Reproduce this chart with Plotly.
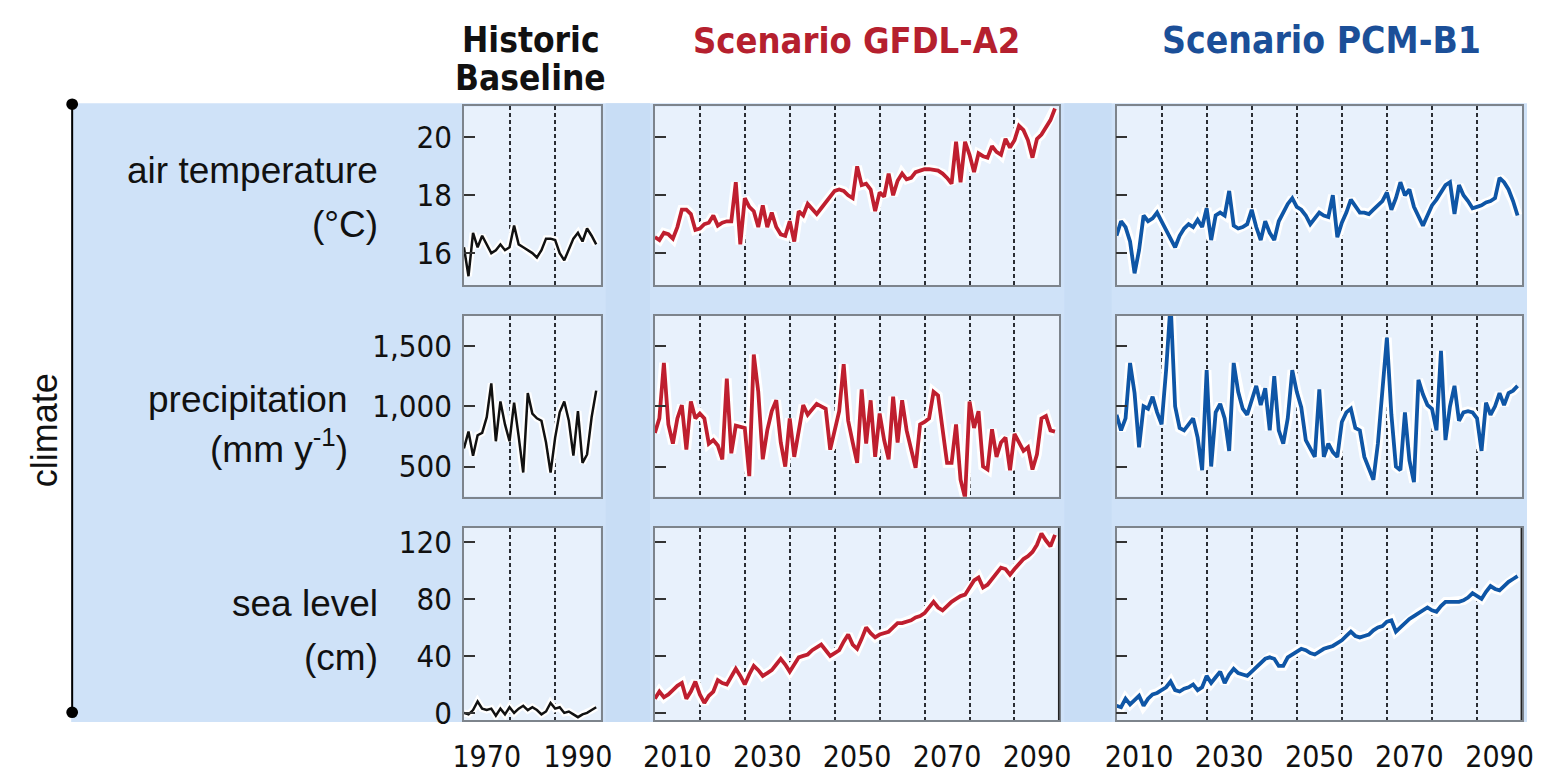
import plotly.graph_objects as go

# The page adds an 8 px body margin; the figure is sized to fit the 1547x782 window
# and all positions below are given in window pixels.
WIN_W, WIN_H = 1547, 782
OFF = 8
W, H = WIN_W - 2 * OFF, WIN_H - 2 * OFF

# ---------------- data ----------------
hist_years = list(range(1965, 1995))
scen_years = list(range(2005, 2095))

hist_temp = [16.2, 15.2, 16.7, 16.2, 16.6, 16.3, 16.0, 16.1, 16.3, 16.1,
             16.2, 16.95, 16.3, 16.2, 16.1, 16.0, 15.85, 16.1, 16.5, 16.5,
             16.45, 16.0, 15.75, 16.1, 16.5, 16.7, 16.4, 16.85, 16.6, 16.3]
hist_precip = [650, 790, 590, 760, 780, 910, 1190, 710, 1040, 850,
               710, 1030, 750, 450, 1110, 940, 900, 880, 700, 450,
               740, 950, 1040, 880, 590, 960, 530, 600, 910, 1130]
hist_sea = [0, -1, 2, 8, 3, 2, 3, -2, 3, -1,
            4, 0, 3, 5, 2, 4, 2, -1, 1, 7,
            3, 4, 0, 1, -1, -3, -1, 0, 2, 4]

gfdl_temp = [16.55, 16.45, 16.7, 16.65, 16.5, 16.9, 17.5, 17.5, 17.35, 16.8,
             16.85, 17.0, 17.05, 17.3, 16.95, 17.05, 17.1, 17.1, 18.45, 16.3,
             17.9, 17.6, 17.45, 16.9, 17.65, 16.9, 17.4, 16.9, 16.65, 16.6,
             17.1, 16.4, 17.45, 17.3, 17.7, 17.5, 17.35, 17.55, 17.75, 17.9,
             18.15, 18.2, 18.15, 18.0, 17.9, 19.0, 18.35, 18.4, 18.2, 17.45,
             18.1, 17.95, 18.75, 18.0, 18.5, 18.75, 18.55, 18.6, 18.8, 18.85,
             18.9, 18.9, 18.88, 18.85, 18.75, 18.6, 18.4, 19.85, 18.45, 19.85,
             19.4, 18.8, 19.45, 19.35, 19.3, 19.7, 19.5, 19.4, 19.95, 19.65,
             19.9, 20.4, 20.25, 19.9, 19.3, 19.95, 20.1, 20.35, 20.6, 21.0]
gfdl_precip = [780, 900, 1360, 850, 690, 900, 1010, 640, 1040, 900,
               940, 900, 690, 720, 675, 560, 1230, 610, 840, 830,
               820, 420, 1430, 1120, 560, 800, 960, 1050, 700, 500,
               900, 580, 800, 1010, 930, 980, 1020, 1000, 980, 640,
               800, 960, 1350, 880, 700, 530, 1140, 690, 1050, 580,
               940, 720, 560, 1080, 700, 1050, 800, 630, 490, 850,
               870, 900, 1120, 1090, 800, 530, 530, 850, 390, 240,
               1040, 820, 960, 500, 475, 810, 580, 700, 740, 470,
               770, 700, 630, 660, 475, 600, 900, 920, 800, 790]
gfdl_sea = [10, 15, 11, 13, 16, 19, 21, 10, 15, 22,
            13, 7, 12, 15, 23, 21, 20, 25, 31, 26,
            20, 27, 33, 30, 26, 28, 30, 34, 38, 34,
            29, 34, 39, 40, 41, 44, 46, 48, 44, 40,
            42, 44, 50, 55, 48, 45, 52, 60, 56, 53,
            55, 56, 57, 60, 63, 63, 64, 65, 67, 68,
            70, 74, 78, 74, 72, 75, 78, 80, 82, 83,
            88, 93, 95, 88, 90, 94, 98, 102, 101, 97,
            101, 105, 108, 110, 113, 118, 126, 121, 117, 125]

pcm_temp = [16.6, 17.1, 16.9, 16.4, 15.3, 16.1, 17.3, 17.1, 17.2, 17.4,
            17.1, 16.8, 16.5, 16.2, 16.6, 16.85, 17.0, 16.9, 17.15, 16.9,
            17.55, 16.45, 17.3, 17.4, 17.3, 18.15, 16.95, 16.85, 16.9, 17.0,
            17.5, 16.9, 16.45, 17.1, 16.7, 16.45, 17.1, 17.4, 17.7, 17.9,
            17.6, 17.5, 17.3, 17.0, 17.2, 17.4, 17.3, 17.25, 18.0, 16.55,
            17.05, 17.4, 17.85, 17.6, 17.4, 17.4, 17.35, 17.5, 17.65, 17.8,
            18.1, 17.5, 17.9, 18.45, 18.0, 18.2, 17.6, 17.3, 16.95, 17.3,
            17.65, 17.85, 18.1, 18.35, 18.45, 17.35, 18.35, 18.0, 17.8, 17.55,
            17.6, 17.65, 17.75, 17.8, 17.9, 18.6, 18.45, 18.2, 17.8, 17.3]
pcm_precip = [930, 800, 900, 1360, 1110, 660, 1000, 980, 1080, 950,
              850, 1300, 1860, 1000, 820, 800, 850, 900, 740, 470,
              1300, 500, 950, 1020, 900, 630, 1360, 1120, 980, 930,
              1050, 1170, 1010, 1150, 800, 1250, 800, 690, 900, 1300,
              1120, 990, 720, 650, 580, 1140, 580, 690, 620, 580,
              870, 950, 980, 820, 800, 580, 480, 390, 690, 1110,
              1570, 930, 500, 470, 950, 550, 370, 1220, 1100, 1010,
              980, 800, 1460, 720, 1000, 1170, 880, 950, 960, 950,
              900, 630, 1030, 930, 1000, 1110, 1010, 1110, 1130, 1170]
pcm_sea = [5, 4, 10, 6, 9, 12, 5, 10, 13, 14,
           16, 18, 22, 16, 15, 17, 18, 20, 16, 18,
           26, 21, 25, 29, 21, 27, 31, 28, 27, 26,
           29, 32, 35, 38, 39, 38, 33, 33, 39, 41,
           43, 45, 44, 42, 41, 43, 45, 46, 47, 49,
           51, 54, 57, 54, 53, 54, 55, 58, 60, 61,
           64, 65, 57, 60, 63, 66, 68, 70, 72, 74,
           72, 71, 75, 78, 78, 78, 78, 79, 81, 84,
           82, 80, 85, 89, 87, 86, 89, 92, 94, 96]

hist_xlabels = [1970, 1990]
scen_xlabels = [2010, 2030, 2050, 2070, 2090]
temp_ticks = [16, 18, 20]
precip_ticks = [500, 1000, 1500]
precip_ticktext = ["500", "1,000", "1,500"]
sea_ticks = [0, 40, 80, 120]

# ---------------- styling ----------------
RED = "#bf1f2f"
BLUE = "#0f56a6"
BLACK = "#111111"
NARROW = "DejaVu Sans Condensed, Liberation Sans Narrow, Arial Narrow, sans-serif"
REG = "Liberation Sans, Arial, sans-serif"
PANEL_BG = "#e8f1fc"


def px(x):
    return (x - OFF) / W


def py(y):
    return 1 - (y - OFF) / H


col_px = [(459, 598), (653, 1064), (1122, 1534)]
row_px = [(106, 290), (322, 508), (540, 738)]
xranges = [[1965, 1995], [2005, 2095], [2005, 2095]]
yranges = [[14.9, 21.08], [250, 1750], [-5, 130]]
ytickvals = [temp_ticks, precip_ticks, sea_ticks]
yticktext = [[str(v) for v in temp_ticks], precip_ticktext, [str(v) for v in sea_ticks]]

series = {
    (0, 0): (hist_years, hist_temp, BLACK), (1, 0): (hist_years, hist_precip, BLACK), (2, 0): (hist_years, hist_sea, BLACK),
    (0, 1): (scen_years, gfdl_temp, RED), (1, 1): (scen_years, gfdl_precip, RED), (2, 1): (scen_years, gfdl_sea, RED),
    (0, 2): (scen_years, pcm_temp, BLUE), (1, 2): (scen_years, pcm_precip, BLUE), (2, 2): (scen_years, pcm_sea, BLUE),
}

fig = go.Figure()
layout = dict(
    width=W, height=H, autosize=False,
    margin=dict(l=0, r=0, t=0, b=0),
    paper_bgcolor="white", plot_bgcolor=PANEL_BG,
    showlegend=False,
)

shapes = []
# blue background band (paper-referenced, bottom-most)
shapes.append(dict(type="rect", xref="paper", yref="paper", x0=px(60), x1=1.0,
                   y0=py(740), y1=py(103), fillcolor="#cfe2f8", line=dict(width=0), layer="below"))
for (a, b) in [(603, 648), (1069, 1117)]:
    shapes.append(dict(type="rect", xref="paper", yref="paper", x0=px(a), x1=px(b),
                       y0=py(740), y1=py(103), fillcolor="#c8ddf5", line=dict(width=0), layer="below"))

for r in range(3):
    for c in range(3):
        k = r * 3 + c + 1
        xs, ys, color = series[(r, c)]
        xa = "x" if k == 1 else f"x{k}"
        ya = "y" if k == 1 else f"y{k}"
        halo_w = 7 if c == 0 else 9.5
        line_w = 2.5 if c == 0 else 3.8
        fig.add_trace(go.Scatter(x=xs, y=ys, mode="lines", xaxis=xa, yaxis=ya,
                                 line=dict(color="white", width=halo_w), hoverinfo="skip"))
        fig.add_trace(go.Scatter(x=xs, y=ys, mode="lines", xaxis=xa, yaxis=ya,
                                 line=dict(color=color, width=line_w)))
        x0, x1 = col_px[c]
        y0, y1 = row_px[r]
        xr = xranges[c]
        gstart = xr[0] + 10
        xkey = "xaxis" if k == 1 else f"xaxis{k}"
        ykey = "yaxis" if k == 1 else f"yaxis{k}"
        layout[xkey] = dict(
            domain=[px(x0), px(x1)], anchor=ya, range=xr,
            showgrid=False, zeroline=False,
            showline=True, mirror=True, linecolor="#7d848c", linewidth=1.5,
            tickmode="array",
            tickvals=(hist_xlabels if c == 0 else scen_xlabels),
            ticks="", showticklabels=(r == 2), ticklabelstandoff=9,
            tickfont=dict(family=NARROW, size=30, color="#111"),
            minor=dict(tick0=gstart, dtick=10, showgrid=True, griddash="4px,3px",
                       gridcolor="#2a2d33", gridwidth=1.6, ticks=""),
        )
        layout[ykey] = dict(
            domain=[py(y1), py(y0)], anchor=xa, range=yranges[r],
            showgrid=False, zeroline=False,
            showline=True, mirror=True, linecolor="#7d848c", linewidth=1.5,
            tickmode="array", tickvals=ytickvals[r], ticktext=yticktext[r],
            ticks="inside", ticklen=11, tickwidth=1.8, tickcolor="#333",
            showticklabels=(c == 0), ticklabelstandoff=4,
            tickfont=dict(family=NARROW, size=31, color="#111"),
        )
        # light panel background (drawn above the paper band, below grid and lines)
        shapes.append(dict(type="rect", xref=xa, yref=ya, x0=xr[0], x1=xr[1],
                           y0=yranges[r][0], y1=yranges[r][1],
                           fillcolor=PANEL_BG, line=dict(width=0), layer="below"))

fig.update_layout(**layout)

# left bracket line with dots
shapes.append(dict(type="line", xref="paper", yref="paper", x0=px(61), x1=px(61),
                   y0=py(730), y1=py(104), line=dict(color="black", width=2)))
for yy in (104, 730):
    shapes.append(dict(type="circle", xref="paper", yref="paper", x0=px(55), x1=px(67),
                       y0=py(yy + 6), y1=py(yy - 6), fillcolor="black", line=dict(width=0)))
# thick right border on the sea-level scenario panels
for k in (8, 9):
    shapes.append(dict(type="line", xref=f"x{k}", yref=f"y{k}", x0=2095, x1=2095,
                       y0=-5, y1=130, line=dict(color="#222", width=3)))

annotations = []


def ann(text, x, y, size, color="#111", family=REG, xanchor="center", bold=False, angle=0):
    annotations.append(dict(
        text=(f"<b>{text}</b>" if bold else text), x=px(x), y=py(y), xref="paper", yref="paper",
        showarrow=False, xanchor=xanchor, yanchor="middle", textangle=angle,
        font=dict(family=family, size=size, color=color)))


ann("Historic", 527, 38, 35, family=NARROW, bold=True)
ann("Baseline", 527, 77, 35, family=NARROW, bold=True)
ann("Scenario GFDL-A2", 858, 38, 36, color="#b5202e", family=NARROW, bold=True)
ann("Scenario PCM-B1", 1330, 38, 37, color="#1b4f98", family=NARROW, bold=True)

ann("air temperature", 374, 172, 37, xanchor="right")
ann("(°C)", 374, 228, 37, xanchor="right")
ann("precipitation", 343, 408, 37, xanchor="right")
ann("(mm y<sup>-1</sup>)", 343, 456, 37, xanchor="right")
ann("sea level", 374, 618, 37, xanchor="right")
ann("(cm)", 374, 674, 37, xanchor="right")
ann("climate", 33, 440, 36, angle=-90)

fig.update_layout(shapes=shapes, annotations=annotations)

fig.write_html("out.html")
